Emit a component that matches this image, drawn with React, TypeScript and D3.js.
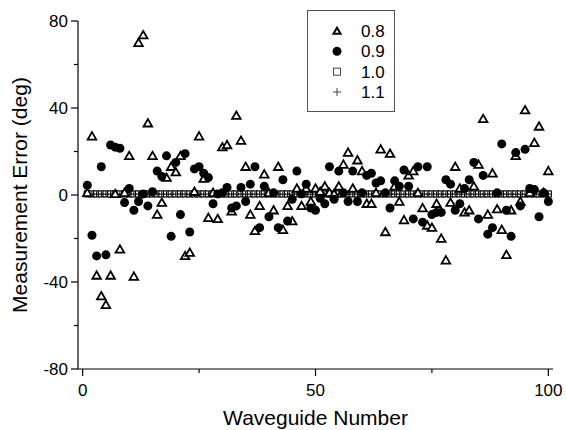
import * as d3 from 'd3';
import React, { useEffect, useRef } from 'react';

// measurement error (deg) per waveguide, one array per series
const waveguideNumbers = d3.range(1, 101);

const err08 = [
    1, 27, -37, -46.5, -50.5, -37, 0.5, -25, 1, 18,
    -37.5, 70, 73.5, 33, 18, -9, -3.5, 8, 13, 10.5,
    18, -28, -26.5, 1.5, 27, 7.5, -10.5, 1, -11, 22,
    23, -7.5, 36.5, 25, 13, -9, -16.5, -5, 9.5, 1,
    -7, 13, -16, -5, -12, 3, -5, 3, -3, 3,
    1.5, 4, 1, 0.5, 4, 14, 19.5, 3, 16, 11,
    -4, -4, 1, 21, -17, 19, 4, -3, -11.5, 9,
    11, 1, -6, -14, -15, -4, -20, -30, -3.5, 13,
    3, -8, -7, 4, 14, 35, -9, 10, -6.5, -16,
    -27.5, -7, 18, -3, 39, 1, 24, 31.5, 1, 11,
];

const err09 = [
    4.5, -18.5, -28, 13, -27.5, 23, 22, 21.5, -3.5, 3,
    -7, -3, 0.5, -5, 1.5, 11, 8.5, 18, -19, 15,
    -9, 19, -17, 12, 13, 10, 8, -4, 0.5, 1,
    3.5, -6, -5, 3.5, -3, 5, 13, -15, 4, -10,
    1, -15, 7, -12, -2, 11, 0.5, 5, -6, -7,
    -1.5, -4, 13, -2, 11, 1, -3, 11, -3, 1,
    9, 10, 5.5, 6.5, 1, -6, 6.5, 4, 11.5, 4,
    -11, 13, -12.5, 13, -9, -8, -8, 7, 5, -7,
    -4, 3, 7, 15, -11, 9, -18, -15, 1, 23.5,
    -7, -19, 19.5, -5, 21, 3, 2.5, -10, 1, -3,
];

const err10 = [
    0.5, 0.5, 0.5, 0.5, 0.5, 0.5, 0.5, 0.5, 0.5, 0.5,
    0.5, 0.5, 0.5, 0.5, 0.5, 0.5, 0.5, 0.5, 0.5, 0.5,
    0.5, 0.5, 0.5, 0.5, 0.5, 0.5, 0.5, 0.5, 0.5, 0.5,
    0.5, 0.5, 0.5, 0.5, 0.5, 0.5, 0.5, 0.5, 0.5, 0.5,
    0.5, 0.5, 0.5, 0.5, 0.5, 0.5, 0.5, 0.5, 0.5, 0.5,
    0.5, 0.5, 0.5, 0.5, 0.5, 0.5, 0.5, 0.5, 0.5, 0.5,
    0.5, 0.5, 0.5, 0.5, 0.5, 0.5, 0.5, 0.5, 0.5, 0.5,
    0.5, 0.5, 0.5, 0.5, 0.5, 0.5, 0.5, 0.5, 0.5, 0.5,
    0.5, 0.5, 0.5, 0.5, 0.5, 0.5, 0.5, 0.5, 0.5, 0.5,
    0.5, 0.5, 0.5, 0.5, 0.5, 0.5, 0.5, 0.5, 0.5, 0.5,
];

const err11 = [
    0.4, 0.4, 0.4, 0.4, 0.4, 0.4, 0.4, 0.4, 0.4, 0.4,
    0.4, 0.4, 0.4, 0.4, 0.4, 0.4, 0.4, 0.4, 0.4, 0.4,
    0.4, 0.4, 0.4, 0.4, 0.4, 0.4, 0.4, 0.4, 0.4, 0.4,
    0.4, 0.4, 0.4, 0.4, 0.4, 0.4, 0.4, 0.4, 0.4, 0.4,
    0.4, 0.4, 0.4, 0.4, 0.4, 0.4, 0.4, 0.4, 0.4, 0.4,
    0.4, 0.4, 0.4, 0.4, 0.4, 0.4, 0.4, 0.4, 0.4, 0.4,
    0.4, 0.4, 0.4, 0.4, 0.4, 0.4, 0.4, 0.4, 0.4, 0.4,
    0.4, 0.4, 0.4, 0.4, 0.4, 0.4, 0.4, 0.4, 0.4, 0.4,
    0.4, 0.4, 0.4, 0.4, 0.4, 0.4, 0.4, 0.4, 0.4, 0.4,
    0.4, 0.4, 0.4, 0.4, 0.4, 0.4, 0.4, 0.4, 0.4, 0.4,
];

const legendLabels = ['0.8', '0.9', '1.0', '1.1'];
const xTicks = [0, 50, 100];
const xMinorTicks = [25, 75];
const yTicks = [-80, -40, 0, 40, 80];
const yMinorTicks = [-60, -20, 20, 60];

const FONT = '"Liberation Sans", Arial, sans-serif';

const App: React.FC = () => {
    const svgRef = useRef<SVGSVGElement>(null);

    useEffect(() => {
        if (!svgRef.current) return;
        d3.select(svgRef.current).selectAll('*').remove();

        const width = 566;
        const height = 430;
        const left = 78, right = 553, top = 21, bottom = 369;

        const svg = d3.select(svgRef.current)
            .attr('width', width)
            .attr('height', height);

        const x = d3.scaleLinear().domain([-1, 101]).range([left, right]);
        const y = d3.scaleLinear().domain([-80, 80]).range([bottom, top]);

        const triangle = d3.symbol().type(d3.symbolTriangle).size(32);
        const plot = svg.append('g');

        // 1.0 squares
        plot.selectAll('rect.s10')
            .data(err10)
            .join('rect')
            .attr('x', (d, i) => x(waveguideNumbers[i]) - 3)
            .attr('y', (d) => y(d) - 3)
            .attr('width', 6)
            .attr('height', 6)
            .attr('fill', '#fff')
            .attr('stroke', '#000')
            .attr('stroke-width', 1.1);

        // 1.1 plus
        plot.selectAll('path.s11')
            .data(err11)
            .join('path')
            .attr('d', (d, i) => {
                const cx = x(waveguideNumbers[i]);
                const cy = y(d);
                return `M${cx - 3},${cy}H${cx + 3}M${cx},${cy - 3}V${cy + 3}`;
            })
            .attr('stroke', '#000')
            .attr('stroke-width', 1)
            .attr('fill', 'none');

        // 0.8 triangles
        plot.selectAll('path.s08')
            .data(err08)
            .join('path')
            .attr('d', triangle)
            .attr('transform', (d, i) => `translate(${x(waveguideNumbers[i])},${y(d) + 0.8})`)
            .attr('fill', '#fff')
            .attr('stroke', '#000')
            .attr('stroke-width', 1.8);

        // 0.9 circles
        plot.selectAll('circle.s09')
            .data(err09)
            .join('circle')
            .attr('cx', (d, i) => x(waveguideNumbers[i]))
            .attr('cy', (d) => y(d))
            .attr('r', 4.5)
            .attr('fill', '#000');

        // axes
        const axes = svg.append('g').attr('stroke', '#000').attr('stroke-width', 1.2);
        axes.append('line').attr('x1', left).attr('x2', left).attr('y1', top).attr('y2', bottom);
        axes.append('line').attr('x1', left).attr('x2', right).attr('y1', bottom).attr('y2', bottom);

        yTicks.forEach((t) => {
            axes.append('line').attr('x1', left - 7).attr('x2', left).attr('y1', y(t)).attr('y2', y(t));
        });
        yMinorTicks.forEach((t) => {
            axes.append('line').attr('x1', left - 4).attr('x2', left).attr('y1', y(t)).attr('y2', y(t));
        });
        xTicks.forEach((t) => {
            axes.append('line').attr('x1', x(t)).attr('x2', x(t)).attr('y1', bottom).attr('y2', bottom + 7);
        });
        xMinorTicks.forEach((t) => {
            axes.append('line').attr('x1', x(t)).attr('x2', x(t)).attr('y1', bottom).attr('y2', bottom + 4);
        });

        svg.selectAll('text.ylab')
            .data(yTicks)
            .join('text')
            .attr('x', left - 10)
            .attr('y', (d) => y(d) + 6)
            .attr('text-anchor', 'end')
            .attr('font-family', FONT)
            .attr('font-size', 17)
            .text((d) => String(d));

        svg.selectAll('text.xlab')
            .data(xTicks)
            .join('text')
            .attr('x', (d) => x(d))
            .attr('y', bottom + 27)
            .attr('text-anchor', 'middle')
            .attr('font-family', FONT)
            .attr('font-size', 17)
            .text((d) => String(d));

        svg.append('text')
            .attr('x', (left + right) / 2)
            .attr('y', 425)
            .attr('text-anchor', 'middle')
            .attr('font-family', FONT)
            .attr('font-size', 21)
            .text('Waveguide Number');

        svg.append('text')
            .attr('transform', `translate(27,${(top + bottom) / 2}) rotate(-90)`)
            .attr('text-anchor', 'middle')
            .attr('font-family', FONT)
            .attr('font-size', 21)
            .text('Measurement Error (deg)');

        // legend
        const lg = svg.append('g');
        lg.append('rect')
            .attr('x', 307.5).attr('y', 10.5)
            .attr('width', 87).attr('height', 101)
            .attr('fill', '#fff')
            .attr('stroke', '#555')
            .attr('stroke-width', 1);

        const rowY = d3.scalePoint<string>().domain(legendLabels).range([31, 92]);
        const mx = 337;

        lg.append('path')
            .attr('d', d3.symbol().type(d3.symbolTriangle).size(22)())
            .attr('transform', `translate(${mx},${rowY('0.8')! + 0.8})`)
            .attr('fill', '#fff').attr('stroke', '#000').attr('stroke-width', 2);
        lg.append('circle')
            .attr('cx', mx).attr('cy', rowY('0.9')!).attr('r', 4.5).attr('fill', '#000');
        lg.append('rect')
            .attr('x', mx - 3.5).attr('y', rowY('1.0')! - 3.5)
            .attr('width', 7).attr('height', 7)
            .attr('fill', '#fff').attr('stroke', '#444').attr('stroke-width', 1);
        lg.append('path')
            .attr('d', `M${mx - 4},${rowY('1.1')}H${mx + 4}M${mx},${rowY('1.1')! - 4}V${rowY('1.1')! + 4}`)
            .attr('stroke', '#444').attr('stroke-width', 1);

        lg.selectAll('text')
            .data(legendLabels)
            .join('text')
            .attr('x', 361)
            .attr('y', (d) => rowY(d)! + 6)
            .attr('font-family', FONT)
            .attr('font-size', 17)
            .text((d) => d);
    }, []);

    return (
        <svg ref={svgRef} style={{ position: 'absolute', left: 0, top: 0, background: '#fff' }}></svg>
    );
};

export default App;
